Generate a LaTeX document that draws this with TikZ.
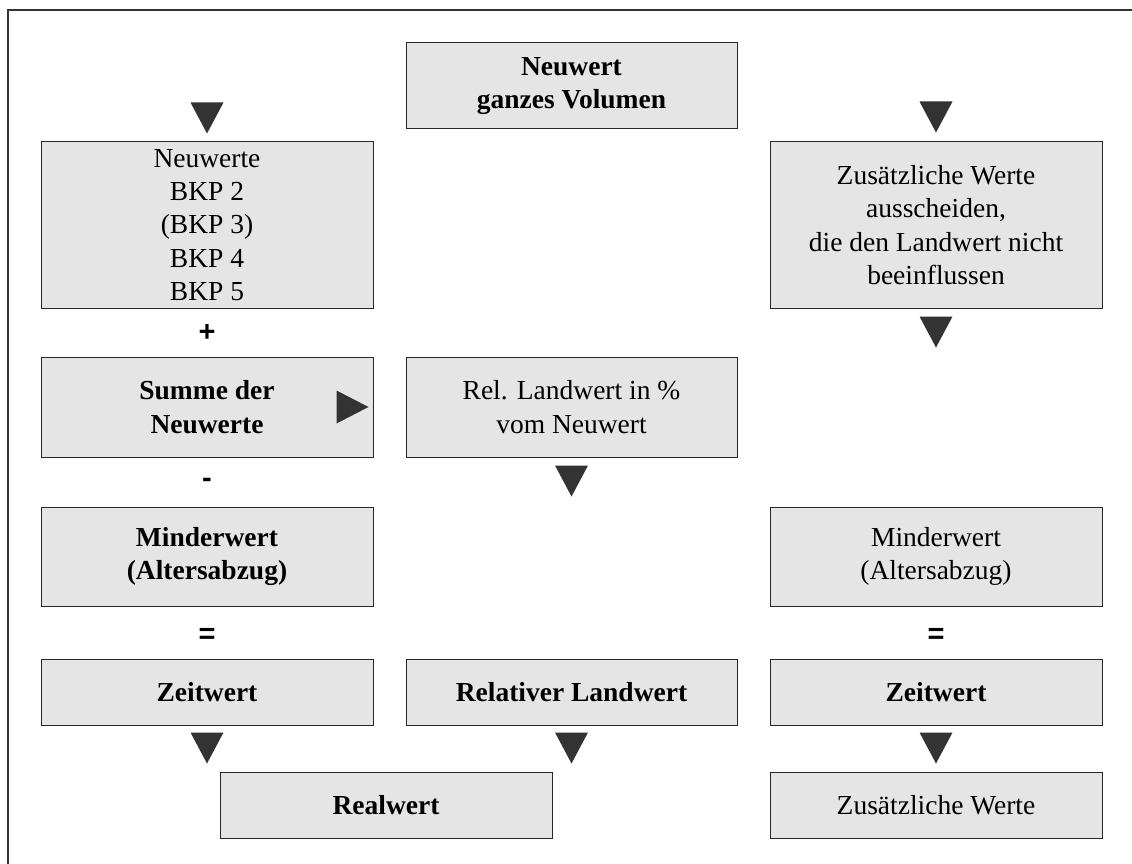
\documentclass[tikz,border=0pt]{standalone}
\usepackage{fontspec}
\setmainfont{Liberation Serif}
\newfontfamily\opfont{Liberation Sans}
\usetikzlibrary{calc}

% downward pointing marker with its tip at the given coordinate
\newcommand{\downmark}[1]{\fill[marker] (#1) -- ++(-16.5,-31) -- ++(33,0) -- cycle;}

\begin{document}
\begin{tikzpicture}[x=1pt,y=-1pt,
  box/.style={draw=black!85, fill=black!10, line width=1pt,
    minimum width=332pt, inner sep=0pt, align=center,
    font=\fontsize{27.5}{33.3}\selectfont},
  bbox/.style={box, font=\fontsize{27.5}{33.3}\selectfont\bfseries},
  marker/.style={fill=black!80},
  op/.style={inner sep=0pt, font=\opfont\bfseries\fontsize{29}{32}\selectfont},
  frame/.style={draw=black!80, line width=1.2pt}]

\useasboundingbox (0,0) rectangle (1132,864);

% open frame: top and left edge only
\draw[frame] (8,864) -- (8,10) -- (1132,10);

% left column
\node[box,  minimum height=166pt] (nw)    at (207,225)   {Neuwerte\\BKP 2\\(BKP 3)\\BKP 4\\BKP 5};
\node[bbox, minimum height=100pt] (sum)   at (207,407)   {Summe der\\Neuwerte};
\node[bbox, minimum height=99pt]  (mind)  at (207,556.5) {Minderwert\\(Altersabzug)};
\node[bbox, minimum height=66pt]  (zeit)  at (207,692)   {Zeitwert};

% middle column
\node[bbox, minimum width=331pt, minimum height=86pt]  (nv)  at (571.5,86)  {Neuwert\\ganzes Volumen};
\node[box,  minimum width=331pt, minimum height=100pt] (rel) at (571.5,407) {Rel. Landwert in \%\\vom Neuwert};
\node[bbox, minimum width=331pt, minimum height=66pt]  (rlw) at (571.5,692) {Relativer Landwert};
\node[bbox, minimum height=66pt] (real) at (386,805) {Realwert};

% right column
\node[box,  minimum height=166pt] (zus)   at (936,225)   {Zusätzliche Werte\\ausscheiden,\\die den Landwert nicht\\beeinflussen};
\node[box,  minimum height=99pt]  (mind2) at (936,556.5) {Minderwert\\(Altersabzug)};
\node[bbox, minimum height=66pt]  (zeit2) at (936,692)   {Zeitwert};
\node[box,  minimum height=66pt]  (zw)    at (936,805)   {Zusätzliche Werte};

% arithmetic signs between the boxes
\node[op] (plus)   at (207,333) {+};
\node[op] (minus)  at (207,483) {-};
\node[op] (eq)     at (207,636) {=};
\node[op] (eq2)    at (936,636) {=};

% markers
\path (nw.north)   ++(0,-8)  coordinate (m1);
\path (zus.north)  ++(0,-9)  coordinate (m2);
\path (zus.south)  ++(0,39)  coordinate (m3);
\path (rel.south)  ++(0,39)  coordinate (m4);
\path (zeit.south) ++(0,38)  coordinate (m5);
\path (rlw.south)  ++(0,38)  coordinate (m6);
\path (zeit2.south)++(0,38)  coordinate (m7);
\downmark{m1}
\downmark{m2}
\downmark{m3}
\downmark{m4}
\downmark{m5}
\downmark{m6}
\downmark{m7}

% right pointing marker inside the sum box
\path (sum.east) ++(-5,0) coordinate (mr);
\fill[marker] (mr) -- ++(-32,-16.5) -- ++(0,33) -- cycle;

\end{tikzpicture}
\end{document}
